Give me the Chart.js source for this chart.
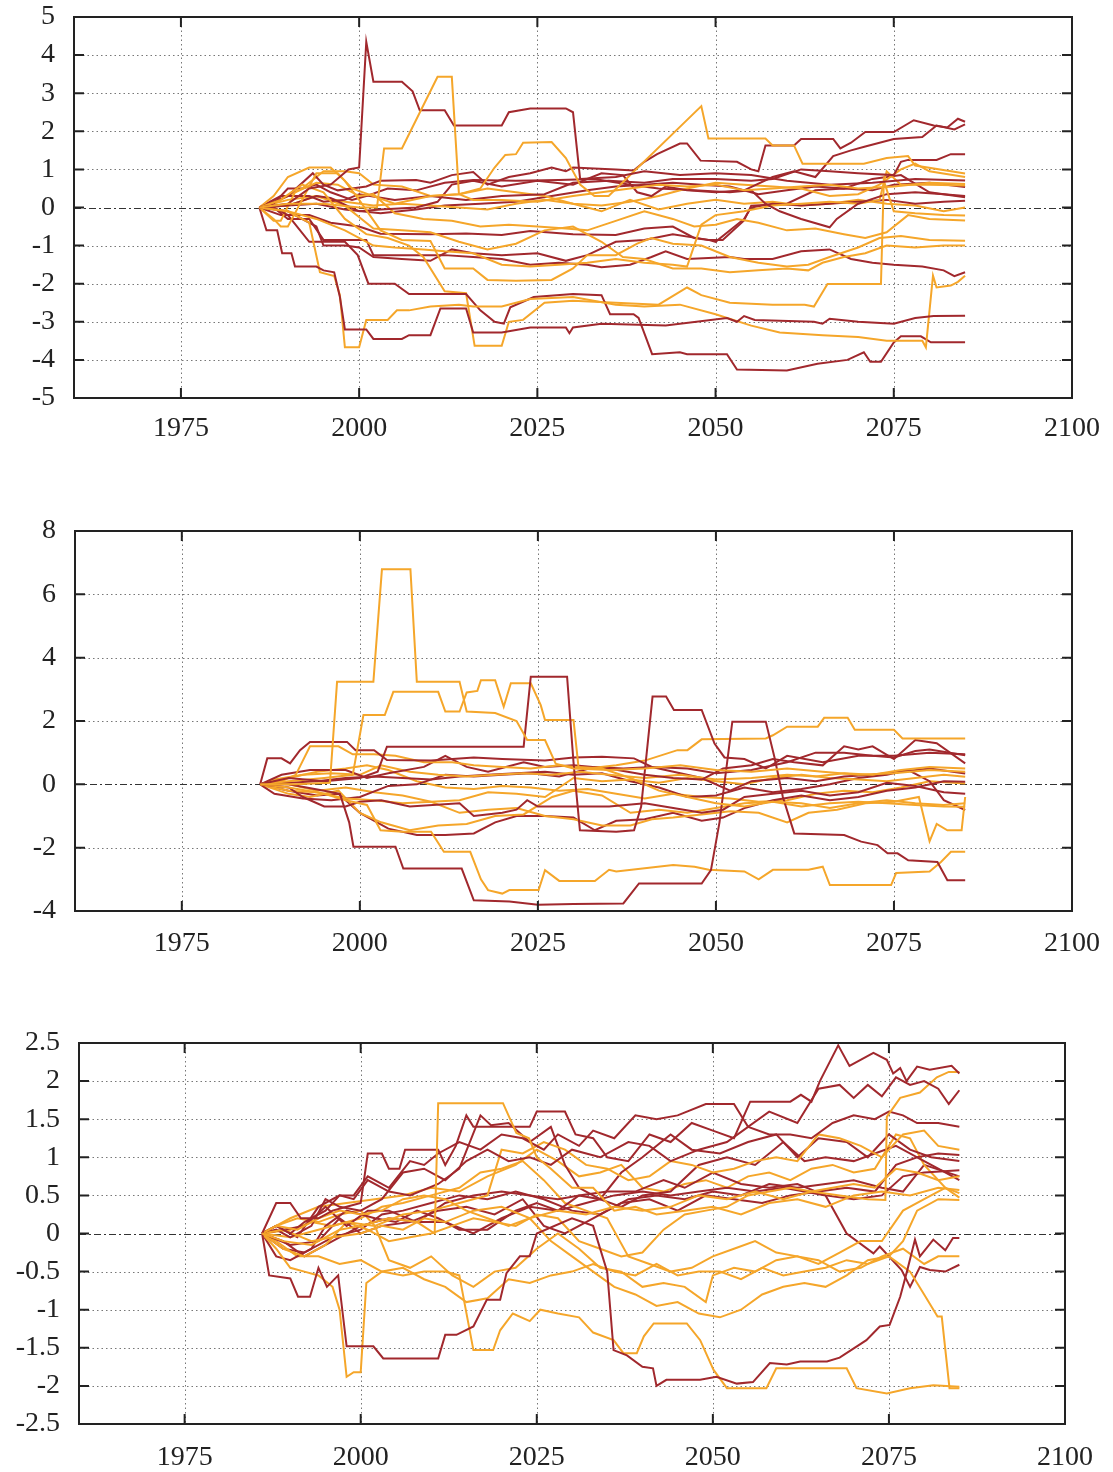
<!DOCTYPE html>
<html>
<head>
<meta charset="utf-8">
<script src="https://cdn.jsdelivr.net/npm/chart.js@4.4.1/dist/chart.umd.min.js"></script>
<style>
  body { margin: 0; background: #fff; }
  #wrap { position: relative; width: 1113px; height: 1472px; overflow: hidden; }
  canvas { position: absolute; left: 0; }
</style>
</head>
<body>
<div id="wrap">
  <canvas id="c1" width="1113" height="460" style="top:0px"></canvas>
  <canvas id="c2" width="1113" height="459" style="top:514px"></canvas>
  <canvas id="c3" width="1113" height="446" style="top:1026px"></canvas>
</div>
<script>
const xTicks = [1975, 2000, 2025, 2050, 2075, 2100];
const p1YTicks = [-5, -4, -3, -2, -1, 0, 1, 2, 3, 4, 5];
const p2YTicks = [-4, -2, 0, 2, 4, 6, 8];
const p3YTicks = [-2.5, -2, -1.5, -1, -0.5, 0, 0.5, 1, 1.5, 2, 2.5];

// panel 1 series, [year, value]
const p1Red = [
  [[1986,0],[1990,0.1],[1993,0.5],[1996,0.6],[1998.5,1.0],[2000,1.05],[2001,4.35],[2002,3.3],[2006,3.3],[2007.5,3.05],[2008.5,2.55],[2012,2.55],[2013.3,2.15],[2020,2.15],[2021,2.5],[2024,2.6],[2029,2.6],[2030,2.5],[2031,0.75],[2036,0.8],[2040,0.95],[2045,0.85],[2050,0.9],[2055,0.85],[2060,0.7],[2066,0.6],[2072,0.65],[2078,0.75],[2085,0.71]],
  [[1986,0],[1987,-0.6],[1988.5,-0.6],[1989.2,-1.2],[1990.5,-1.2],[1991,-1.55],[1994,-1.55],[1995,-1.65],[1996.5,-1.7],[1997.3,-2.35],[1998,-3.2],[2001,-3.2],[2002,-3.45],[2006,-3.45],[2007,-3.35],[2010,-3.35],[2011.4,-2.65],[2015,-2.65],[2016,-3.28],[2020,-3.28],[2024,-3.15],[2029,-3.15],[2029.5,-3.3],[2030,-3.15],[2034,-3.05],[2043,-3.1],[2051.6,-2.9],[2053,-3.0],[2054,-2.85],[2055.5,-2.95],[2063.8,-3.0],[2065,-3.05],[2066,-2.92],[2070,-3.0],[2075,-3.05],[2078,-2.9],[2080.6,-2.85],[2085,-2.84]],
  [[1986,0],[1988,0],[1990,-0.2],[1993,-0.9],[1998,-0.9],[1999.8,-1.25],[2001.3,-2.0],[2005,-2.0],[2007,-2.27],[2015,-2.27],[2017,-2.7],[2019,-3.0],[2020.3,-3.05],[2021.2,-2.62],[2024.5,-2.35],[2030,-2.27],[2034,-2.3],[2035.2,-2.8],[2038.5,-2.8],[2039.2,-2.9],[2041.1,-3.85],[2045,-3.8],[2046,-3.85],[2051.6,-3.85],[2053,-4.25],[2060,-4.28],[2064.3,-4.1],[2068.5,-4.0],[2070.8,-3.8],[2071.7,-4.05],[2073.2,-4.05],[2075,-3.54],[2076,-3.38],[2078.8,-3.38],[2080.2,-3.54],[2085,-3.54]],
  [[1986,0],[1988,0.15],[1990,0.3],[1993.5,0.9],[1995,0.6],[1997,0.45],[1999,0.5],[2001,0.55],[2003,0.7],[2008,0.72],[2010,0.65],[2013,0.85],[2016,0.93],[2018,0.6],[2021,0.8],[2024,0.9],[2027,1.05],[2029,0.95],[2030,1.05],[2036,1.0],[2038.5,0.97],[2040,1.2],[2041.8,1.4],[2045,1.68],[2046,1.68],[2047.9,1.23],[2053,1.2],[2055,1.0],[2056,0.95],[2057,1.63],[2061,1.63],[2062,1.8],[2066.5,1.8],[2067.5,1.55],[2069,1.7],[2071,1.98],[2075,1.98],[2077.8,2.29],[2080.6,2.15],[2082.5,2.1],[2084,2.33],[2085,2.25]],
  [[1986,0],[1990,0.05],[1994,0.3],[1996,0.25],[2000,-0.1],[2003,-0.05],[2008,0.0],[2011,0.15],[2013,0.6],[2016,0.7],[2020,0.55],[2025,0.7],[2030,0.6],[2034,0.9],[2037,0.85],[2039,0.4],[2041,0.3],[2043,0.55],[2046,0.45],[2050,0.4],[2054,0.45],[2058,0.8],[2061,0.95],[2064,0.8],[2066.5,1.35],[2069,1.5],[2071,1.6],[2075,1.8],[2079,1.85],[2081,2.15],[2083.5,2.05],[2085,2.18]],
  [[1986,0],[1989,0.3],[1993,0.3],[1995,0.15],[1998,0.2],[2000,0.35],[2005,0.2],[2010,0.3],[2015,0.2],[2020,0.3],[2026,0.35],[2030,0.65],[2035,0.7],[2040,0.65],[2044,0.75],[2050,0.75],[2055,0.7],[2058,0.75],[2062,1.0],[2066,0.95],[2070,0.9],[2075,0.85],[2076,1.2],[2077,1.25],[2081,1.25],[2083,1.4],[2085,1.4]],
  [[1986,0],[1988,0.1],[1990,0.5],[1992,0.5],[1994,0.6],[1996,0.4],[1999,0.2],[2001,0.3],[2004,0.5],[2008,0.45],[2012,0.65],[2016,0.72],[2022,0.7],[2028,0.72],[2033,0.75],[2038,0.6],[2042,0.5],[2047,0.45],[2052,0.4],[2055,0.45],[2057,0.1],[2059,-0.1],[2062,-0.3],[2066,-0.52],[2067,-0.3],[2070,0.1],[2074,0.35],[2078,0.4],[2082,0.35],[2085,0.3]],
  [[1986,0],[1990,-0.1],[1994,-0.5],[1995,-1.0],[1998,-1.0],[2000,-1.05],[2002,-1.3],[2006,-1.35],[2010,-1.4],[2013,-1.1],[2016,-1.2],[2020,-1.25],[2025,-1.2],[2029,-1.4],[2032,-1.25],[2036,-0.9],[2040,-0.85],[2044,-0.7],[2049,-0.85],[2050,-0.9],[2054,-0.3],[2055,0.0],[2058,0.1],[2062,0.05],[2066,0.1],[2070,0.15],[2074,0.2],[2078,0.1],[2082,0.15],[2085,0.18]],
  [[1986,0],[1988,0],[1990,-0.3],[1993,-0.3],[1995,-0.85],[2001,-0.85],[2002,-1.25],[2012,-1.25],[2016,-1.3],[2020,-1.35],[2024,-1.5],[2028,-1.45],[2032,-1.5],[2034,-1.57],[2038,-1.5],[2041,-1.3],[2043,-1.15],[2046,-1.35],[2052,-1.3],[2054,-1.35],[2058,-1.35],[2062,-1.15],[2066,-1.1],[2069,-1.35],[2072,-1.45],[2075,-1.5],[2079,-1.55],[2082,-1.65],[2083.5,-1.8],[2085,-1.7]],
  [[1986,0],[1989,-0.2],[1993,-0.2],[1996,-0.4],[2000,-0.5],[2003,-0.69],[2010,-0.7],[2015,-0.68],[2020,-0.72],[2024,-0.62],[2030,-0.7],[2036,-0.72],[2040,-0.55],[2044,-0.5],[2047,-0.8],[2049,-0.85],[2051,-0.85],[2054,-0.34],[2055,0.05],[2060,0.1],[2064,0.45],[2068,0.5],[2072,0.45],[2075,0.6],[2080,0.65],[2085,0.54]],
  [[1986,0],[1990,0.05],[1994,0.1],[1998,-0.05],[2003,-0.15],[2008,-0.05],[2012,0.05],[2017,0.1],[2022,0.15],[2027,0.3],[2032,0.45],[2036,0.55],[2040,0.6],[2044,0.65],[2048,0.6],[2052,0.55],[2056,0.35],[2060,0.45],[2064,0.55],[2068,0.5],[2072,0.75],[2076,0.85],[2080,0.4],[2085,0.27]]
];
const p1Orange = [
  [[1986,0],[1990,0.1],[1995,0.1],[2000,0.0],[2002.5,0.0],[2003.5,1.55],[2006,1.55],[2011,3.43],[2013,3.43],[2014,0.35],[2016,0.2],[2020,0.2],[2025,0.15],[2030,0.3],[2034,0.4],[2038,0.5],[2042,0.6],[2046,0.55],[2050,0.6],[2054,0.45],[2058,0.5],[2062,0.55],[2066,0.6],[2070,0.5],[2075,0.55],[2080,0.65],[2085,0.62]],
  [[1986,0],[1988,-0.3],[1989,-0.5],[1990,-0.5],[1992,0.2],[1994,0.9],[1997,0.9],[1999,0.5],[2002,0.3],[2005,0.1],[2010,0.3],[2014,0.35],[2017,0.5],[2019,1.05],[2020.5,1.38],[2022,1.4],[2023,1.7],[2027,1.72],[2029,1.3],[2031,0.6],[2033,0.3],[2035,0.3],[2048,2.66],[2049,1.81],[2057,1.81],[2058,1.63],[2061,1.63],[2062.2,1.15],[2070.8,1.15],[2074,1.3],[2077,1.35],[2078,1.1],[2085,0.89]],
  [[1986,0],[1990,-0.1],[1993,-0.4],[1994.5,-1.7],[1996.5,-1.8],[1997.3,-2.3],[1998,-3.67],[2000,-3.67],[2001,-2.95],[2004,-2.95],[2005.3,-2.7],[2007,-2.7],[2010,-2.6],[2014,-2.55],[2016,-2.6],[2020,-2.6],[2024,-2.4],[2030,-2.35],[2036,-2.55],[2040,-2.6],[2045,-2.55],[2050,-2.8],[2055,-3.1],[2059,-3.28],[2065,-3.35],[2070,-3.4],[2074,-3.5],[2079,-3.5],[2079.5,-3.67],[2080.5,-1.79],[2081,-2.1],[2083,-2.05],[2084,-1.95],[2085,-1.79]],
  [[1986,0],[1989,0.2],[1992,0.6],[1995,0.4],[1998,-0.3],[2001,-0.7],[2004,-0.8],[2007,-1.0],[2009,-1.3],[2012,-2.2],[2015,-2.25],[2016.2,-3.63],[2020,-3.63],[2021,-3.0],[2023,-2.95],[2026,-2.5],[2030,-2.45],[2036,-2.5],[2042,-2.55],[2046,-2.1],[2048,-2.3],[2052,-2.5],[2058,-2.55],[2062.5,-2.55],[2063.8,-2.6],[2065.7,-2.01],[2073.2,-2.01],[2073.6,0.7],[2075,-0.1],[2078,-0.15],[2082,-0.2],[2085,-0.21]],
  [[1986,0],[1988,0.3],[1990,0.8],[1993,1.05],[1996,1.05],[1998,0.7],[2000,0.2],[2003,-0.6],[2006,-0.85],[2010,-0.88],[2012,-1.6],[2016,-1.6],[2018,-1.9],[2022,-1.92],[2027,-1.9],[2030,-1.6],[2032,-1.25],[2036,-1.25],[2039,-0.95],[2041,-0.8],[2044,-0.95],[2048,-1.0],[2052,-1.3],[2056,-1.45],[2060,-1.55],[2063,-1.5],[2066,-1.3],[2070,-1.05],[2073,-0.8],[2076,-0.75],[2080,-0.85],[2085,-0.87]],
  [[1986,0],[1988,-0.35],[1989,-0.35],[1991,0.4],[1994,0.65],[1997,0.6],[2000,0.3],[2002,0.35],[2005,-0.15],[2009,-0.3],[2013,-0.35],[2017,-0.5],[2021,-0.45],[2025,-0.5],[2029,-0.55],[2032,-0.6],[2036,-0.35],[2040,-0.1],[2044,-0.3],[2047,-0.5],[2050,-0.45],[2053,-0.3],[2056,-0.4],[2060,-0.6],[2064,-0.55],[2068,-0.7],[2071,-0.8],[2074,-0.65],[2077,-0.2],[2080,-0.3],[2085,-0.34]],
  [[1986,0],[1989,0.2],[1992,0.5],[1995,0.95],[1998,0.95],[2000,0.9],[2002,0.6],[2006,0.55],[2010,0.3],[2014,0.35],[2018,0.5],[2022,0.4],[2026,0.3],[2030,0.1],[2034,0.05],[2038,0.15],[2042,0.3],[2046,0.5],[2050,0.65],[2054,0.6],[2058,0.55],[2062,0.5],[2066,0.3],[2070,0.35],[2073,0.6],[2076,1.0],[2078,1.15],[2080,0.95],[2085,0.8]],
  [[1986,0],[1990,-0.1],[1994,-0.3],[1998,-0.6],[2002,-1.0],[2005,-1.05],[2009,-1.1],[2012,-1.15],[2016,-1.2],[2020,-1.5],[2024,-1.55],[2028,-1.5],[2032,-1.45],[2036,-1.35],[2040,-1.45],[2044,-1.5],[2046,-1.55],[2048,-0.45],[2050,-0.2],[2054,-0.1],[2058,0.05],[2062,0.1],[2066,0.15],[2070,0.1],[2073,0.2],[2074,0.95],[2076,0.6],[2080,0.6],[2085,0.58]],
  [[1986,0],[1990,0.05],[1994,0.3],[1998,0.05],[2002,-0.55],[2006,-0.6],[2010,-0.65],[2014,-0.9],[2018,-1.1],[2022,-0.95],[2026,-0.6],[2030,-0.5],[2034,-0.9],[2037,-1.3],[2040,-1.35],[2044,-1.6],[2048,-1.6],[2052,-1.7],[2056,-1.65],[2060,-1.6],[2063,-1.65],[2065,-1.45],[2068,-1.3],[2071,-1.2],[2074,-1.0],[2078,-1.05],[2082,-1.0],[2085,-1.0]],
  [[1986,0],[1990,0.2],[1994,0.3],[1998,0.15],[2002,0.05],[2006,0.1],[2010,0.05],[2014,0.0],[2018,-0.05],[2022,0.1],[2026,0.2],[2030,0.1],[2034,-0.1],[2038,0.2],[2042,-0.05],[2046,0.1],[2050,0.2],[2054,0.1],[2058,0.15],[2062,0.05],[2066,0.1],[2070,0.2],[2074,0.1],[2078,0.05],[2082,-0.1],[2085,0.0]]
];

// panel 2 series
const p2Red = [
  [[1986,0],[1990,0.2],[1995,0.1],[2000,0.2],[2002.5,0.4],[2003.8,1.19],[2023,1.19],[2024,3.4],[2029.1,3.4],[2030,0.7],[2030.9,-1.45],[2036,-1.5],[2038.5,-1.45],[2039.5,-0.7],[2041.1,2.77],[2043,2.77],[2044.1,2.35],[2048,2.35],[2049.8,1.29],[2051.2,0.85],[2054,0.8],[2057,0.5],[2060,0.9],[2065,0.7],[2070,0.9],[2075,0.9],[2080,1.0],[2085,0.95]],
  [[1986,0],[1990,0],[1995,-0.2],[1997.2,-0.3],[1998.5,-1.2],[1999.1,-1.97],[2005,-1.97],[2006.1,-2.66],[2014.3,-2.66],[2016,-3.66],[2021,-3.7],[2025,-3.8],[2030,-3.78],[2037,-3.76],[2039.2,-3.13],[2048,-3.13],[2049.3,-2.71],[2050.5,-1.2],[2052.3,1.98],[2057,1.98],[2058.2,0.87],[2059.4,-0.4],[2061,-1.55],[2068,-1.6],[2070.4,-1.81],[2072.7,-1.92],[2074.1,-2.18],[2075.5,-2.18],[2077,-2.4],[2081.1,-2.45],[2082.5,-3.03],[2085,-3.03]],
  [[1986,0],[1987,0.82],[1989,0.82],[1990.2,0.66],[1991.6,1.08],[1993,1.34],[1998.2,1.34],[1999.4,1.08],[2002,1.08],[2003.8,0.77],[2010,0.75],[2016,0.85],[2020,0.8],[2026,0.75],[2030,0.85],[2034,0.87],[2038.5,0.82],[2041,0.55],[2046,0.5],[2050,0.35],[2055,0.45],[2060,0.7],[2064,1.0],[2068,1.0],[2072,0.9],[2075,0.85],[2078,1.05],[2080,1.1],[2085,0.92]],
  [[1986,0],[1989,0.3],[1993,0.45],[1998,0.45],[2001,0.2],[2004,0.35],[2009,0.55],[2012,0.9],[2015,0.55],[2018,0.4],[2023,0.7],[2026,0.55],[2030,0.6],[2035,0.5],[2040,0.3],[2044,0.2],[2048,0.15],[2051,0.5],[2055,0.6],[2058,0.8],[2061,0.7],[2065,0.6],[2068,1.2],[2070,1.1],[2072,1.2],[2075,0.8],[2078,1.4],[2081,1.3],[2085,0.66]],
  [[1986,0],[1990,-0.1],[1992,-0.4],[1995,-0.7],[1998,-0.7],[2000,-0.55],[2003,-0.5],[2007,-0.7],[2014,-0.6],[2016,-1.0],[2020,-0.9],[2022,-0.8],[2023.5,-0.5],[2025,-0.7],[2030,-0.7],[2035,-0.7],[2040,-0.6],[2044,-0.75],[2048,-0.9],[2051,-0.8],[2054,-0.4],[2058,-0.3],[2062,-0.2],[2066,-0.35],[2070,-0.25],[2074,0.05],[2078,-0.05],[2082,-0.25],[2085,-0.3]],
  [[1986,0],[1988,-0.3],[1992,-0.45],[1996,-0.5],[2000,-0.4],[2004,-0.05],[2008,0.0],[2012,0.3],[2016,0.25],[2020,0.3],[2024,0.35],[2028,0.25],[2033,0.55],[2037,0.5],[2041,0.55],[2045,0.35],[2048,0.2],[2052,-0.2],[2055,0.1],[2060,0.2],[2064,0.1],[2068,0.25],[2072,0.3],[2076,0.4],[2080,0.5],[2085,0.34]],
  [[1986,0],[1990,-0.2],[1994,-0.35],[1997,-0.3],[2000,-0.9],[2004,-1.4],[2008,-1.6],[2012,-1.6],[2016,-1.55],[2019,-1.2],[2022,-1.0],[2026,-1.0],[2030,-1.05],[2033,-1.45],[2036,-1.15],[2040,-1.1],[2044,-0.9],[2048,-1.15],[2051,-1.05],[2054,-0.75],[2058,-0.5],[2062,-0.35],[2066,-0.5],[2070,-0.4],[2074,-0.2],[2078,-0.1],[2082,0.1],[2085,0.08]],
  [[1986,0],[1990,0.05],[1994,0.1],[1998,0.2],[2002,0.25],[2006,0.2],[2010,0.15],[2014,0.25],[2018,0.3],[2022,0.35],[2026,0.4],[2030,0.3],[2034,0.35],[2038,0.1],[2042,-0.1],[2046,-0.4],[2050,-0.35],[2054,-0.1],[2058,-0.25],[2062,-0.15],[2066,0.0],[2070,0.2],[2074,0.3],[2077,0.45],[2080,0.1],[2082,-0.5],[2085,-0.81]]
];
const p2Orange = [
  [[1986,0],[1991,0],[1995.8,0.05],[1996.8,3.24],[2001.9,3.24],[2003.1,6.79],[2007.1,6.79],[2008,3.24],[2014,3.24],[2015,2.3],[2019,2.25],[2022,2.0],[2023.5,1.4],[2026,1.4],[2027.5,0.65],[2030,0.5],[2035,0.45],[2040,0.5],[2045,0.6],[2050,0.45],[2055,0.4],[2060,0.5],[2065,0.4],[2070,0.3],[2075,0.35],[2080,0.45],[2085,0.4]],
  [[1986,0],[1990,0.1],[1995,0.2],[1999,0.3],[2000.5,2.19],[2003.5,2.19],[2004.7,2.92],[2011,2.92],[2012,2.3],[2014,2.3],[2015,2.9],[2016.5,2.95],[2017,3.29],[2019,3.29],[2020.2,2.45],[2021.2,3.19],[2024,3.19],[2025.4,2.5],[2026,2.03],[2030,2.03],[2030.7,0.55],[2034,0.5],[2038,0.2],[2042,-0.2],[2046,-0.4],[2050,-0.6],[2054,-0.7],[2058,-0.55],[2062,-0.6],[2066,-0.75],[2070,-0.6],[2074,-0.5],[2078,-0.6],[2082,-0.65],[2085,-0.6]],
  [[1986,0],[1990,-0.1],[1995,-0.3],[1998,-0.5],[2001,-0.65],[2002.9,-1.45],[2006,-1.5],[2010,-1.5],[2011.8,-2.13],[2015.5,-2.13],[2017,-3.0],[2018,-3.34],[2020,-3.45],[2021,-3.34],[2025.1,-3.34],[2026,-2.71],[2028,-3.05],[2033,-3.05],[2035,-2.7],[2036,-2.75],[2040,-2.65],[2044,-2.55],[2047,-2.6],[2049,-2.7],[2054,-2.75],[2056,-3.0],[2058,-2.7],[2063,-2.7],[2065,-2.6],[2066,-3.18],[2074.6,-3.18],[2075.3,-2.8],[2080,-2.75],[2081.6,-2.45],[2083,-2.13],[2085,-2.13]],
  [[1986,0],[1989,0.1],[1991,0.3],[1993,1.2],[1997,1.2],[1999,0.95],[2002,0.95],[2005,0.9],[2009,0.7],[2013,0.7],[2016,0.6],[2020,0.55],[2024,0.5],[2028,0.6],[2032,0.5],[2036,0.6],[2040,0.75],[2044.6,1.08],[2046,1.08],[2048,1.42],[2057,1.45],[2058,1.55],[2060,1.82],[2064.3,1.82],[2065.2,2.1],[2068.5,2.1],[2069.5,1.72],[2075,1.72],[2076.2,1.45],[2085,1.45]],
  [[1986,0],[1988,0.15],[1992,0.3],[1996,0.35],[2000,0.3],[2003,0.6],[2007,0.4],[2011,0.3],[2015,0.25],[2019,0.3],[2023,0.35],[2027,0.3],[2031,0.4],[2035,0.3],[2040,0.2],[2045,0.3],[2050,0.15],[2055,0.2],[2060,0.3],[2064,0.25],[2068,0.35],[2072,0.3],[2076,0.45],[2080,0.55],[2085,0.5]],
  [[1986,0],[1990,-0.2],[1994,-0.25],[1998,-0.45],[2002,-0.5],[2006,-0.6],[2010,-0.55],[2014,-0.9],[2018,-0.8],[2022,-0.75],[2026,-1.0],[2030,-1.1],[2034,-1.3],[2038,-1.3],[2041,-1.1],[2044,-1.05],[2048,-0.95],[2052,-0.85],[2056,-0.9],[2060,-1.2],[2063,-0.9],[2067,-0.8],[2071,-0.6],[2075,-0.55],[2078.5,-0.4],[2080,-1.8],[2081,-1.25],[2082.5,-1.45],[2084.5,-1.45],[2085,-0.4]],
  [[1986,0],[1990,-0.3],[1993,-0.4],[1997,-0.2],[2000,-0.9],[2003,-1.2],[2007,-1.45],[2011,-1.3],[2015,-1.25],[2019,-1.0],[2023,-0.95],[2027,-0.4],[2030,-0.2],[2034,-0.35],[2038,-0.9],[2042,-0.8],[2046,-0.9],[2050,-0.75],[2054,-0.6],[2058,-0.55],[2062,-0.7],[2066,-0.6],[2070,-0.55],[2074,-0.6],[2078,-0.65],[2082,-0.7],[2085,-0.71]],
  [[1986,0],[1990,0.0],[1994,-0.2],[1998,-0.1],[2002,-0.25],[2006,-0.35],[2010,-0.55],[2014,-0.5],[2018,-0.25],[2022,-0.3],[2026,-0.4],[2030,0.2],[2034,0.1],[2038,0.15],[2042,0.05],[2046,0.2],[2050,0.1],[2054,0.0],[2058,0.2],[2062,0.3],[2066,0.2],[2070,0.15],[2074,0.1],[2078,0.2],[2082,0.3],[2085,0.24]],
  [[1986,0],[1990,0.2],[1994,0.4],[1998,0.5],[2001,0.6],[2004,0.45],[2008,0.1],[2012,-0.1],[2016,-0.15],[2020,-0.05],[2024,-0.1],[2028,-0.2],[2032,-0.15],[2036,-0.3],[2040,-0.45],[2044,-0.3],[2048,-0.4],[2052,-0.45],[2056,-0.55],[2060,-0.5],[2064,-0.3],[2068,-0.2],[2072,-0.25],[2076,-0.1],[2080,0.1],[2085,0.03]]
];

// panel 3 series
const p3Red = [
  [[1986,0],[1987,-0.55],[1990,-0.59],[1991.1,-0.83],[1992.8,-0.83],[1994,-0.45],[1995.2,-0.7],[1996.8,-0.55],[1998,-1.48],[2001.8,-1.48],[2003.2,-1.64],[2011,-1.64],[2012,-1.33],[2013.6,-1.33],[2016,-1.22],[2017.9,-0.87],[2019.8,-0.87],[2020.7,-0.52],[2022.6,-0.3],[2024,-0.3],[2025,0.0],[2030,0.2],[2033,0.1],[2035,-0.5],[2035.9,-1.53],[2037.8,-1.6],[2040,-1.75],[2041.5,-1.77],[2042,-2.0],[2043.4,-1.92],[2048.2,-1.92],[2050.5,-1.88],[2053.4,-1.97],[2055.7,-1.95],[2058.1,-1.7],[2060.5,-1.72],[2062.4,-1.68],[2066.2,-1.68],[2068,-1.63],[2071.8,-1.4],[2073.7,-1.22],[2075.1,-1.2],[2076.6,-0.83],[2077.5,-0.52],[2078.7,-0.08],[2079.4,-0.3],[2081.3,-0.08],[2083,-0.22],[2084.1,-0.06],[2085,-0.06]],
  [[1986,0],[1988,0.4],[1990,0.4],[1991.5,0.2],[1994,0.2],[1996,0.3],[1998,0.35],[2000,0.4],[2001,1.05],[2003,1.05],[2004,0.85],[2005.5,0.85],[2006.3,1.1],[2011,1.1],[2012,0.9],[2013.5,1.15],[2015,1.55],[2016,1.4],[2024,1.4],[2025,1.6],[2029,1.6],[2030.5,1.3],[2033,1.25],[2035,1.0],[2038,0.95],[2041,1.3],[2044,1.2],[2047,1.45],[2050,1.35],[2053,1.25],[2055.3,1.73],[2061,1.73],[2062.5,1.82],[2064,1.73],[2065.2,2.0],[2067.8,2.47],[2069.4,2.2],[2072.8,2.37],[2074.7,2.28],[2075.6,2.1],[2076.6,2.17],[2077.5,2.0],[2079,2.19],[2080.8,2.15],[2083.9,2.2],[2085,2.1]],
  [[1986,0],[1988,0.1],[1990,0.0],[1992,0.15],[1995,0.3],[1997,0.5],[1999,0.5],[2001,0.75],[2004,0.6],[2007,0.95],[2009,0.9],[2011,1.05],[2014,1.2],[2017,1.1],[2020,1.3],[2023,1.25],[2026,1.1],[2028,1.3],[2031,1.15],[2033,1.35],[2036,1.25],[2039,1.55],[2042,1.5],[2045,1.55],[2049,1.7],[2053,1.7],[2055,1.4],[2058,1.6],[2062,1.45],[2065,1.9],[2068,1.95],[2070,1.78],[2072,1.95],[2074,1.8],[2076,2.05],[2078,1.95],[2080,2.0],[2082,1.9],[2083.5,1.7],[2085,1.88]],
  [[1986,0],[1988,0.05],[1990,-0.05],[1993,0.1],[1995,0.45],[1997,0.35],[2000,0.3],[2003,0.45],[2006,0.8],[2009,0.85],[2012,0.7],[2015,0.95],[2018,1.1],[2021,0.95],[2024,1.0],[2027,0.9],[2030,1.1],[2034,1.0],[2038,1.2],[2041,1.15],[2044,0.95],[2048,1.1],[2052,1.2],[2055,1.4],[2058,1.3],[2061,1.3],[2064,1.25],[2067,1.45],[2070,1.55],[2073,1.5],[2075,1.6],[2077,1.55],[2079,1.45],[2082,1.45],[2085,1.4]],
  [[1986,0],[1989,0.05],[1992,0.1],[1995,0.35],[1998,0.1],[2001,0.3],[2004,0.3],[2008,0.15],[2012,0.4],[2016,0.5],[2020,0.55],[2024,0.5],[2028,0.45],[2031,0.5],[2034,0.45],[2037,0.35],[2040,0.5],[2044,0.55],[2048,0.9],[2052,1.0],[2056,0.9],[2060,1.2],[2063,0.95],[2066,1.0],[2070,0.95],[2073,1.05],[2076,1.15],[2079,1.0],[2082,1.05],[2085,1.03]],
  [[1986,0],[1988,-0.3],[1990,-0.35],[1993,-0.2],[1995,0.1],[1998,0.3],[2002,0.2],[2005,0.15],[2008,0.3],[2011,0.2],[2014,0.05],[2018,0.05],[2022,0.3],[2025,0.4],[2028,0.3],[2031,0.5],[2035,0.55],[2039,0.55],[2043,0.7],[2046,0.6],[2050,0.8],[2054,0.65],[2058,0.6],[2062,0.65],[2066,0.5],[2070,0.45],[2074,0.5],[2077,0.75],[2080,0.8],[2085,0.83]],
  [[1986,0],[1990,-0.15],[1994,-0.1],[1997,0.2],[2000,0.0],[2003,0.1],[2007,0.15],[2011,0.3],[2015,0.35],[2019,0.25],[2023,0.45],[2026,0.1],[2029,0.0],[2033,0.2],[2037,0.4],[2041,0.45],[2045,0.3],[2049,0.5],[2053,0.45],[2057,0.4],[2061,0.5],[2065,0.55],[2069,0.6],[2073,0.55],[2076,0.9],[2079,1.0],[2082,0.85],[2085,0.7]],
  [[1986,0],[1989,-0.1],[1992,-0.3],[1996,-0.1],[2000,0.1],[2004,0.2],[2008,0.15],[2012,0.15],[2016,0.0],[2020,0.2],[2024,0.35],[2028,0.3],[2032,0.4],[2036,0.5],[2040,0.55],[2044,0.5],[2048,0.55],[2052,0.6],[2056,0.55],[2060,0.6],[2063,0.55],[2066,0.5],[2069,0.0],[2072.8,-0.26],[2073.7,-0.17],[2076.8,-0.48],[2078,-0.7],[2079.4,-0.44],[2080.8,-0.48],[2083,-0.5],[2085,-0.41]],
  [[1986,0],[1988,0.1],[1991,-0.05],[1994,0.35],[1997,0.5],[1999,0.45],[2001,0.7],[2004,0.55],[2007,0.5],[2011,0.65],[2014,0.85],[2017,1.55],[2018.5,1.42],[2021,1.45],[2024,1.2],[2027,1.4],[2029,0.9],[2031,0.6],[2034,0.45],[2037,0.8],[2040,1.0],[2044,1.3],[2047,1.1],[2051,1.05],[2055,1.2],[2059,1.3],[2062,1.0],[2065,1.25],[2069,1.2],[2072,1.0],[2075,1.3],[2078,1.1],[2081,1.0],[2085,0.95]],
  [[1986,0],[1989,-0.2],[1992,-0.25],[1996,-0.05],[2000,0.05],[2003,0.25],[2006,0.3],[2010,0.4],[2014,0.5],[2018,0.45],[2022,0.55],[2026,0.45],[2030,0.3],[2034,0.25],[2038,0.45],[2042,0.5],[2046,0.45],[2050,0.55],[2054,0.5],[2058,0.65],[2062,0.6],[2066,0.65],[2070,0.7],[2074,0.6],[2077,0.55],[2080,0.9],[2085,0.75]]
];
const p3Orange = [
  [[1986,0],[1989,-0.1],[1993,-0.15],[1997,0.05],[2000,0.1],[2004,0.2],[2008,0.15],[2010.5,0.0],[2011,1.71],[2020.2,1.71],[2022.1,1.32],[2023.9,1.25],[2025,1.0],[2027,0.85],[2030,0.6],[2033,0.6],[2036,0.3],[2039,0.35],[2042,0.25],[2046,0.3],[2050,0.35],[2054,0.25],[2058,0.4],[2062,0.45],[2066,0.35],[2070,0.5],[2074,0.55],[2078,0.5],[2082,0.6],[2085,0.57]],
  [[1986,0],[1988,-0.2],[1990,-0.45],[1992,-0.5],[1994,-0.55],[1996,-0.7],[1997,-1.0],[1998,-1.88],[1999,-1.82],[2000,-1.82],[2000.8,-0.65],[2003,-0.5],[2006,-0.55],[2009,-0.5],[2012,-0.5],[2014,-0.55],[2016,-1.53],[2018.8,-1.53],[2019.8,-1.27],[2021.6,-1.05],[2024,-1.15],[2025.5,-1.0],[2028,-1.05],[2031,-1.1],[2033,-1.3],[2035.9,-1.4],[2037.3,-1.57],[2039.2,-1.57],[2040.2,-1.35],[2041.6,-1.18],[2046.3,-1.18],[2048.2,-1.4],[2050.1,-1.79],[2052,-2.03],[2057.6,-2.03],[2059,-1.77],[2069,-1.77],[2070.4,-2.03],[2074.7,-2.1],[2078,-2.03],[2081.3,-1.99],[2085,-2.01]],
  [[1986,0],[1988,0.1],[1991,0.05],[1994,0.2],[1997,0.3],[2000,0.25],[2003,0.3],[2006,0.45],[2009,0.5],[2012,0.45],[2015,0.3],[2018,0.2],[2021,0.1],[2024,0.2],[2027,-0.1],[2030,-0.3],[2033,-0.5],[2036,-0.7],[2039,-0.8],[2042,-0.95],[2045,-0.9],[2048,-1.05],[2051,-1.1],[2054,-1.0],[2057,-0.8],[2060,-0.7],[2063,-0.65],[2066,-0.7],[2069,-0.55],[2072,-0.35],[2075,-0.3],[2078,-0.5],[2080,-0.8],[2081.9,-1.09],[2082.5,-1.09],[2083.6,-2.03],[2085,-2.03]],
  [[1986,0],[1989,0.05],[1993,-0.1],[1996,-0.05],[2000,0.0],[2003,0.1],[2006,0.05],[2009,0.2],[2012,0.15],[2016,0.3],[2020,0.35],[2024,0.2],[2028,0.3],[2032,0.25],[2036,0.35],[2040,0.3],[2044,0.35],[2048,0.5],[2052,0.45],[2056,0.55],[2060,0.45],[2064,0.55],[2068,0.5],[2072,0.45],[2074.5,0.44],[2074.7,1.53],[2076.6,1.78],[2079.4,1.85],[2081.8,2.05],[2083.5,2.12],[2085,2.12]],
  [[1986,0],[1990,-0.05],[1994,0.05],[1998,0.15],[2002,0.1],[2006,0.25],[2010,0.3],[2014,0.4],[2018,0.5],[2020,1.1],[2023,1.05],[2026,1.2],[2029,1.1],[2032,0.9],[2035,0.85],[2038,0.7],[2041,0.75],[2044,0.95],[2047,0.9],[2050,0.8],[2053,0.85],[2056,0.95],[2059,1.0],[2062,0.95],[2065,1.3],[2068,1.25],[2071,1.15],[2074,1.0],[2077,1.3],[2080,1.35],[2082,1.15],[2085,1.1]],
  [[1986,0],[1989,-0.2],[1992,-0.3],[1995,-0.15],[1998,0.15],[2001,0.05],[2004,-0.1],[2007,-0.05],[2010,0.0],[2013,0.1],[2016,0.2],[2019,0.15],[2022,0.1],[2025,0.25],[2028,0.2],[2031,-0.1],[2034,-0.2],[2037,-0.3],[2040,-0.25],[2043,0.05],[2046,0.25],[2049,0.3],[2052,0.35],[2055,0.5],[2058,0.55],[2061,0.6],[2064,0.55],[2067,0.6],[2070,0.65],[2073,0.6],[2076,0.85],[2079,0.8],[2082,0.7],[2085,0.75]],
  [[1986,0],[1988,0.1],[1991,0.2],[1994,0.15],[1997,0.25],[2000,0.3],[2002,0.1],[2004,-0.35],[2007,-0.45],[2010,-0.3],[2013,-0.55],[2016,-0.7],[2019,-0.5],[2022,-0.45],[2025,-0.2],[2028,0.0],[2031,-0.2],[2034,-0.45],[2037,-0.5],[2040,-0.7],[2043,-0.65],[2046,-0.7],[2049,-0.9],[2050,-0.55],[2053,-0.45],[2056,-0.5],[2059,-0.35],[2062,-0.3],[2065,-0.4],[2068,-0.25],[2071,-0.1],[2074,-0.1],[2077,0.3],[2080,0.45],[2083,0.6],[2085,0.53]],
  [[1986,0],[1990,0.05],[1993,0.15],[1996,0.1],[2000,0.2],[2003,0.35],[2006,0.4],[2010,0.5],[2014,0.6],[2017,0.8],[2020,0.85],[2023,0.95],[2026,0.7],[2029,0.4],[2032,0.3],[2035,0.2],[2038,-0.3],[2041,-0.4],[2044,-0.5],[2047,-0.45],[2050,-0.3],[2053,-0.2],[2056,-0.1],[2059,-0.25],[2062,-0.3],[2065,-0.35],[2068,-0.5],[2071,-0.45],[2074,-0.3],[2077,-0.2],[2080,-0.4],[2082,-0.3],[2085,-0.3]],
  [[1986,0],[1988,-0.1],[1991,-0.3],[1994,-0.3],[1997,-0.4],[2000,-0.35],[2003,-0.5],[2006,-0.45],[2009,-0.6],[2012,-0.7],[2015,-0.9],[2018,-0.85],[2021,-0.6],[2024,-0.65],[2027,-0.55],[2030,-0.5],[2033,-0.4],[2036,-0.5],[2039,-0.55],[2042,-0.4],[2045,-0.55],[2048,-0.5],[2051,-0.5],[2054,-0.6],[2057,-0.45],[2060,-0.55],[2063,-0.5],[2066,-0.45],[2069,-0.35],[2072,-0.4],[2075,-0.3],[2077,-0.1],[2079,0.3],[2082,0.45],[2085,0.44]],
  [[1986,0],[1990,0.2],[1994,0.35],[1998,0.4],[2002,0.45],[2006,0.5],[2010,0.6],[2014,0.55],[2018,0.75],[2022,0.9],[2025,1.1],[2028,0.95],[2031,0.75],[2034,0.8],[2037,0.9],[2040,0.6],[2043,0.55],[2046,0.65],[2049,0.7],[2052,0.6],[2055,0.75],[2058,0.8],[2061,0.7],[2064,0.85],[2067,0.9],[2070,0.8],[2073,0.85],[2076,1.3],[2078,1.25],[2080,0.9],[2083,0.6],[2085,0.47]]
];

const RED = '#a1282d';
const ORANGE = '#f5a62a';
const FONT = "'Liberation Serif', 'DejaVu Serif', serif";

function buildSets(red, orange) {
  const sets = [];
  const n = Math.max(red.length, orange.length);
  for (let i = 0; i < n; i++) {
    if (orange[i]) sets.push({ data: orange[i].map(p => ({ x: p[0], y: p[1] })), borderColor: ORANGE });
    if (red[i]) sets.push({ data: red[i].map(p => ({ x: p[0], y: p[1] })), borderColor: RED });
  }
  return sets;
}

// gnuplot-like frame: dotted grid, dash-dot zero line, border with inward ticks
const frame = {
  id: 'frame',
  beforeDatasetsDraw(chart) {
    const { ctx, chartArea: a, scales: { x, y } } = chart;
    ctx.save();
    ctx.lineWidth = 1;
    ctx.strokeStyle = '#777';
    ctx.setLineDash([1.5, 3]);
    ctx.beginPath();
    xTicks.forEach(v => {
      const px = Math.round(x.getPixelForValue(v)) + 0.5;
      if (px > a.left + 2 && px < a.right - 2) { ctx.moveTo(px, a.top); ctx.lineTo(px, a.bottom); }
    });
    y.ticks.forEach(t => {
      if (t.value === 0) return;
      const py = Math.round(y.getPixelForValue(t.value)) + 0.5;
      if (py > a.top + 2 && py < a.bottom - 2) { ctx.moveTo(a.left, py); ctx.lineTo(a.right, py); }
    });
    ctx.stroke();
    const zy = Math.round(y.getPixelForValue(0)) + 0.5;
    ctx.strokeStyle = '#333';
    ctx.setLineDash([7, 3, 2, 3]);
    ctx.beginPath();
    ctx.moveTo(a.left, zy);
    ctx.lineTo(a.right, zy);
    ctx.stroke();
    ctx.restore();
  },
  afterDatasetsDraw(chart) {
    const { ctx, chartArea: a, scales: { x, y } } = chart;
    ctx.save();
    ctx.strokeStyle = '#222';
    ctx.lineWidth = 2;
    ctx.beginPath();
    xTicks.forEach(v => {
      const px = x.getPixelForValue(v);
      ctx.moveTo(px, a.bottom); ctx.lineTo(px, a.bottom - 10);
      ctx.moveTo(px, a.top); ctx.lineTo(px, a.top + 10);
    });
    y.ticks.forEach(t => {
      const py = y.getPixelForValue(t.value);
      ctx.moveTo(a.left, py); ctx.lineTo(a.left + 10, py);
      ctx.moveTo(a.right, py); ctx.lineTo(a.right - 10, py);
    });
    ctx.stroke();
    ctx.strokeRect(a.left, a.top, a.right - a.left, a.bottom - a.top);
    ctx.restore();
  }
};

function makePanel(id, red, orange, yTicks, yWidth, xHeight, xPad, pad) {
  const ctx = document.getElementById(id).getContext('2d');
  return new Chart(ctx, {
    type: 'line',
    data: { datasets: buildSets(red, orange) },
    plugins: [frame],
    options: {
      responsive: false,
      animation: false,
      devicePixelRatio: 1,
      layout: { padding: pad },
      elements: {
        point: { radius: 0 },
        line: { borderWidth: 2, tension: 0, fill: false }
      },
      plugins: { legend: { display: false }, tooltip: { enabled: false } },
      scales: {
        x: {
          type: 'linear',
          min: 1960,
          max: 2100,
          afterBuildTicks: s => { s.ticks = xTicks.map(v => ({ value: v })); },
          afterFit: s => { s.height = xHeight; s.paddingLeft = 0; s.paddingRight = 0; },
          grid: { display: false, drawTicks: false },
          border: { display: false },
          ticks: {
            padding: xPad,
            color: '#222',
            maxRotation: 0,
            autoSkip: false,
            font: { family: FONT, size: 28 },
            callback: v => String(v)
          }
        },
        y: {
          min: yTicks[0],
          max: yTicks[yTicks.length - 1],
          afterBuildTicks: s => { s.ticks = yTicks.map(v => ({ value: v })); },
          afterFit: s => { s.width = yWidth; s.paddingTop = 0; s.paddingBottom = 0; },
          grid: { display: false, drawTicks: false },
          border: { display: false },
          ticks: {
            padding: 19,
            color: '#222',
            autoSkip: false,
            font: { family: FONT, size: 28 },
            callback: v => String(v)
          }
        }
      }
    }
  });
}

makePanel('c1', p1Red, p1Orange, p1YTicks, 74, 50, 14, { top: 17, right: 41, bottom: 12, left: 0 });
makePanel('c2', p2Red, p2Orange, p2YTicks, 75, 50, 16, { top: 17, right: 41, bottom: 12, left: 0 });
makePanel('c3', p3Red, p3Orange, p3YTicks, 79, 44, 17, { top: 17, right: 48, bottom: 4, left: 0 });
</script>
</body>
</html>
